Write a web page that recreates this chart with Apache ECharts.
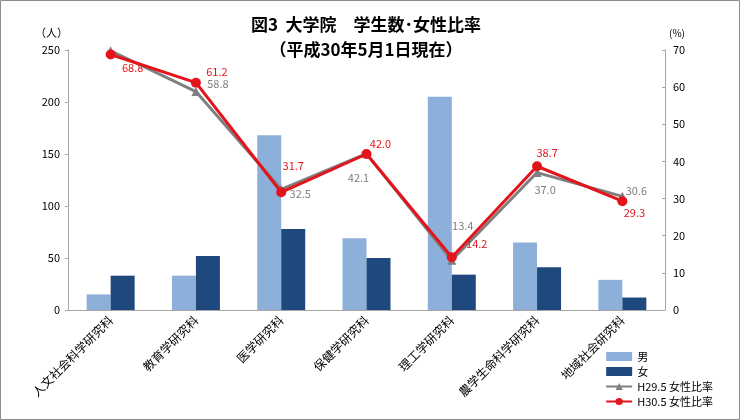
<!DOCTYPE html>
<html><head><meta charset="utf-8">
<script src="https://cdn.jsdelivr.net/npm/echarts@6/dist/echarts.min.js"></script>
<style>html,body{margin:0;padding:0;background:#fff}#c{width:740px;height:420px}</style>
</head><body><div id="c"></div>
<script>
const categories = ['人文社会科学研究科','教育学研究科','医学研究科','保健学研究科','理工学研究科','農学生命科学研究科','地域社会研究科'];
const male = [15, 33, 168, 69, 205, 65, 29];
const female = [33, 52, 78, 50, 34, 41, 12];
const rateH29 = [69.8, 58.8, 32.5, 42.1, 13.4, 37.0, 30.6];
const rateH30 = [68.8, 61.2, 31.7, 42.0, 14.2, 38.7, 29.3];
const leftTicks = [0, 50, 100, 150, 200, 250];
const rightTicks = [0, 10, 20, 30, 40, 50, 60, 70];

// label offsets (style only)
const offH30 = [[22,13],[21,-11],[12,-26],[14,-10],[25,-13],[10,-13],[12,12]];
const offH29 = [null,[22,-8],[19,5],[-8,24],[11,-34],[8,17],[14,-6]];

const FONT = '"Noto Sans CJK JP", "Noto Sans", sans-serif';
const RED = '#E3141C', GRAY = '#7F7F7F';

function lineData(vals, offs, color) {
  return vals.map((v, i) => ({
    value: v,
    label: offs[i] ? {
      show: true, position: 'inside', offset: offs[i],
      formatter: (p) => p.value.toFixed(1), color: color, fontSize: 11, fontFamily: FONT
    } : {show: false}
  }));
}

const chart = echarts.init(document.getElementById('c'));
chart.setOption({
  animation: false,
  textStyle: {fontFamily: FONT},
  title: {
    text: '図3  大学院　学生数･女性比率\n（平成30年5月1日現在）',
    left: 361, top: 7, textAlign: 'center',
    textStyle: {fontSize: 17, fontWeight: 'bold', color: '#000', lineHeight: 25, fontFamily: FONT}
  },
  graphic: [{type: 'rect', shape: {x: 0.5, y: 0.5, width: 739, height: 419}, style: {fill: 'none', stroke: '#8C8C8C', lineWidth: 1}}],
  legend: {
    orient: 'vertical', right: 22, bottom: 8, itemGap: 4, itemWidth: 26, itemHeight: 9,
    textStyle: {fontSize: 11, color: '#000', fontFamily: FONT},
    data: [
      {name: '男', icon: 'rect', itemStyle: {color: '#8DB0DA'}},
      {name: '女', icon: 'rect', itemStyle: {color: '#1F497D'}},
      {name: 'H29.5 女性比率'},
      {name: 'H30.5 女性比率'}
    ]
  },
  grid: {left: 68, right: 75, top: 50, bottom: 110},
  xAxis: {
    type: 'category', data: categories,
    axisLine: {lineStyle: {color: '#A6A6A6'}},
    axisTick: {show: false},
    axisLabel: {rotate: 45, color: '#000', fontSize: 12, margin: 8, interval: 0, fontFamily: FONT}
  },
  yAxis: [{
    type: 'value', min: 0, max: 250, interval: 50,
    name: '（人）', nameLocation: 'end', nameGap: 12,
    nameTextStyle: {color: '#000', fontSize: 11, align: 'right'},
    axisLine: {show: true, lineStyle: {color: '#A6A6A6'}},
    axisTick: {show: true, length: 3, lineStyle: {color: '#A6A6A6'}},
    splitLine: {show: false},
    axisLabel: {color: '#000', fontSize: 11, margin: 8,
      formatter: (v) => leftTicks.includes(v) ? String(v) : ''}
  }, {
    type: 'value', min: 0, max: 70, interval: 10,
    name: '(%)', nameLocation: 'end', nameGap: 12,
    nameTextStyle: {color: '#000', fontSize: 10, align: 'left', padding: [0, 0, 0, 4]},
    axisLine: {show: true, lineStyle: {color: '#A6A6A6'}},
    axisTick: {show: true, inside: true, length: 3, lineStyle: {color: '#A6A6A6'}},
    splitLine: {show: false},
    axisLabel: {color: '#000', fontSize: 11, margin: 8,
      formatter: (v) => rightTicks.includes(v) ? String(v) : ''}
  }],
  series: [
    {name: '男', type: 'bar', data: male, barWidth: 24, barGap: '0%', itemStyle: {color: '#8DB0DA'}},
    {name: '女', type: 'bar', data: female, barWidth: 24, barGap: '0%', itemStyle: {color: '#1F497D'}},
    {name: 'H29.5 女性比率', type: 'line', yAxisIndex: 1, data: lineData(rateH29, offH29, GRAY),
      symbol: 'triangle', symbolSize: 9, lineStyle: {color: GRAY, width: 3}, itemStyle: {color: GRAY}, z: 3},
    {name: 'H30.5 女性比率', type: 'line', yAxisIndex: 1, data: lineData(rateH30, offH30, RED),
      symbol: 'circle', symbolSize: 10, lineStyle: {color: RED, width: 3}, itemStyle: {color: RED}, z: 4}
  ]
});
</script></body></html>
